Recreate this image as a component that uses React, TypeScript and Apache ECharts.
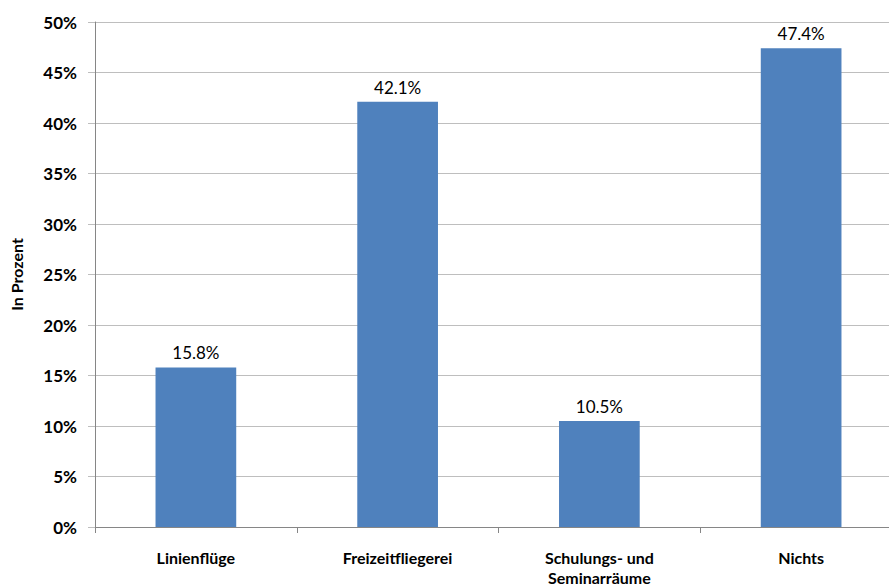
import React, { useEffect, useRef } from "react";
import * as echarts from "echarts";

const categories = ["Linienflüge", "Freizeitfliegerei", "Schulungs- und\nSeminarräume", "Nichts"];
const values = [15.8, 42.1, 10.5, 47.4];
const yTicks = { min: 0, max: 50, interval: 5 };

export default function App() {
  const ref = useRef<HTMLDivElement>(null);
  useEffect(() => {
    document.body.style.margin = "0";
    const chart = echarts.init(ref.current!, undefined, { renderer: "svg" });
    const font = "Lato, 'Open Sans', sans-serif";
    chart.setOption({
      animation: false,
      backgroundColor: "#ffffff",
      grid: { left: 95, top: 22, bottom: 59, width: 807, outerBoundsMode: "none", containLabel: false },
      xAxis: {
        type: "category",
        data: categories,
        axisLine: { lineStyle: { color: "#868686", width: 1 } },
        axisTick: { show: true, length: 6, lineStyle: { color: "#868686" } },
        axisLabel: {
          margin: 20,
          color: "#000",
          fontWeight: "bold",
          fontSize: 16,
          fontFamily: font,
          lineHeight: 20,
          interval: 0,
        },
      },
      yAxis: {
        type: "value",
        min: yTicks.min,
        max: yTicks.max,
        interval: yTicks.interval,
        name: "In Prozent",
        nameLocation: "middle",
        nameRotate: 90,
        nameGap: 71,
        nameTextStyle: { color: "#000", fontWeight: "bold", fontSize: 16, fontFamily: font },
        axisLine: { show: true, lineStyle: { color: "#868686", width: 1 } },
        axisTick: { show: true, length: 7, lineStyle: { color: "#BEBEBE" } },
        splitLine: { lineStyle: { color: "#BEBEBE", width: 1 } },
        axisLabel: {
          formatter: (v: number) => `${v}%`,
          color: "#000",
          fontWeight: "bold",
          fontSize: 17,
          fontFamily: font,
          margin: 18,
        },
      },
      series: [
        {
          type: "bar",
          data: values,
          barWidth: "40%",
          itemStyle: { color: "#4F81BD" },
          label: {
            show: true,
            position: "top",
            distance: 6,
            formatter: (p: any) => `${Number(p.value).toFixed(1)}%`,
            color: "#000",
            fontSize: 17,
            fontFamily: font,
          },
        },
      ],
    });
    return () => chart.dispose();
  }, []);
  return <div ref={ref} style={{ width: 889, height: 586 }} />;
}
